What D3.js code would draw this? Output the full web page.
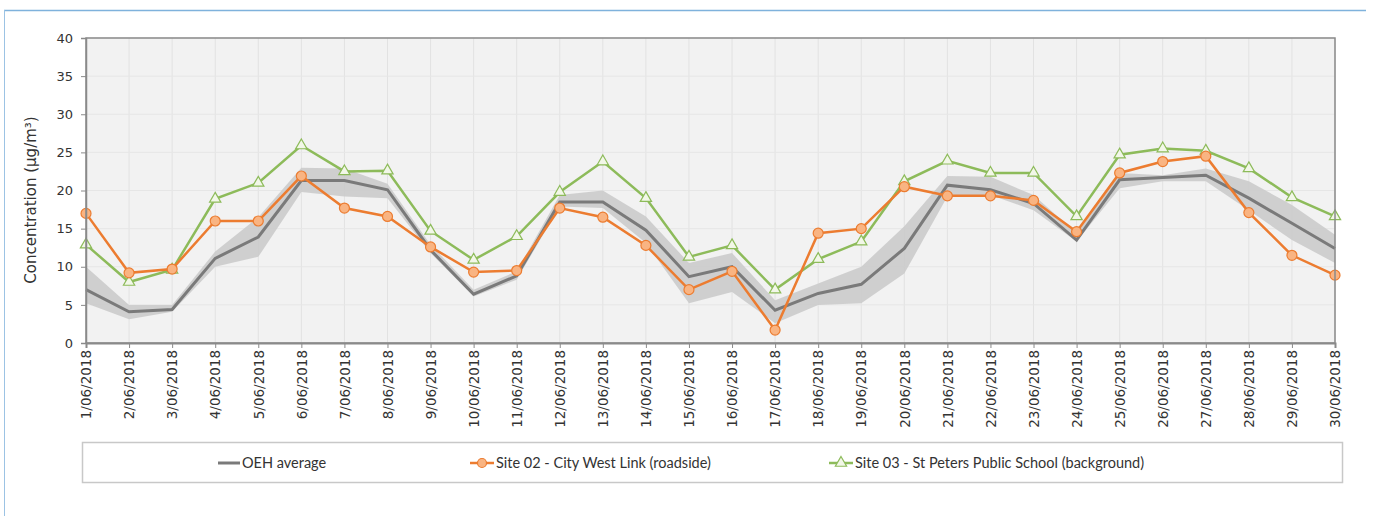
<!DOCTYPE html>
<html>
<head>
<meta charset="utf-8">
<script src="https://cdn.jsdelivr.net/npm/d3@7"></script>
<style>
  body { margin: 0; background: #fff; }
  svg { display: block; font-family: Lato, "Open Sans", sans-serif; }
</style>
</head>
<body>
<script>
// dates 1/06/2018 .. 30/06/2018
const dates = ['1/06/2018','2/06/2018','3/06/2018','4/06/2018','5/06/2018','6/06/2018','7/06/2018','8/06/2018','9/06/2018','10/06/2018',
  '11/06/2018','12/06/2018','13/06/2018','14/06/2018','15/06/2018','16/06/2018','17/06/2018','18/06/2018','19/06/2018','20/06/2018',
  '21/06/2018','22/06/2018','23/06/2018','24/06/2018','25/06/2018','26/06/2018','27/06/2018','28/06/2018','29/06/2018','30/06/2018'];

const oehAvg = [7.0, 4.1, 4.4, 11.1, 13.9, 21.3, 21.3, 20.1, 12.2, 6.4,
  8.8, 18.5, 18.5, 14.8, 8.7, 10.0, 4.3, 6.5, 7.7, 12.4,
  20.7, 20.1, 18.3, 13.5, 21.4, 21.7, 22.0, 19.0, 15.7, 12.4];
const oehMax = [10.0, 5.0, 5.0, 12.0, 16.5, 23.0, 22.9, 20.9, 12.9, 7.0,
  9.4, 19.4, 20.0, 16.6, 10.5, 11.8, 5.6, 7.8, 10.0, 15.3,
  21.9, 21.8, 19.4, 14.4, 22.3, 22.0, 22.9, 21.2, 18.1, 14.2];
const oehMin = [5.2, 3.1, 4.1, 10.0, 11.3, 19.8, 19.2, 19.0, 11.8, 6.1,
  8.3, 17.9, 17.7, 13.1, 5.2, 6.7, 2.6, 5.0, 5.2, 9.1,
  19.2, 19.4, 17.4, 13.3, 20.3, 21.2, 21.2, 17.4, 13.5, 10.5];
const site02 = [17.0, 9.2, 9.7, 16.0, 16.0, 21.9, 17.7, 16.6, 12.6, 9.3,
  9.5, 17.7, 16.5, 12.8, 7.0, 9.4, 1.7, 14.4, 15.0, 20.5,
  19.3, 19.3, 18.7, 14.6, 22.3, 23.8, 24.5, 17.1, 11.5, 8.9];
const site03 = [12.9, 8.0, 9.6, 18.9, 21.0, 25.9, 22.5, 22.6, 14.7, 10.9,
  14.0, 19.8, 23.8, 19.0, 11.3, 12.8, 7.0, 11.0, 13.3, 21.2,
  23.9, 22.3, 22.3, 16.6, 24.7, 25.5, 25.2, 22.9, 19.1, 16.6];
const yTicks = [0, 5, 10, 15, 20, 25, 30, 35, 40];
const legendLabels = ['OEH average', 'Site 02 - City West Link (roadside)', 'Site 03 - St Peters Public School (background)'];

const W = 1373, H = 516;
const margin = { left: 86, top: 38 };
const width = 1335 - margin.left;
const height = 343 - margin.top;

const svg = d3.select('body').append('svg')
  .attr('width', W).attr('height', H);

// outer blue frame (top + left)
svg.append('line').attr('x1', 4).attr('x2', 1366).attr('y1', 10.5).attr('y2', 10.5)
  .attr('stroke', '#7fb2dc').attr('stroke-width', 1.5);
svg.append('line').attr('x1', 4.5).attr('x2', 4.5).attr('y1', 10).attr('y2', H)
  .attr('stroke', '#9cc3e4').attr('stroke-width', 1);

const x = d3.scalePoint().domain(dates).range([0, width]);
const y = d3.scaleLinear().domain([0, 40]).range([height, 0]);

const g = svg.append('g').attr('transform', `translate(${margin.left},${margin.top})`);

g.append('rect').attr('width', width).attr('height', height).attr('fill', '#f2f2f2');

// gridlines
g.append('g').selectAll('line').data(dates).enter().append('line')
  .attr('x1', d => x(d)).attr('x2', d => x(d)).attr('y1', 0).attr('y2', height)
  .attr('stroke', '#e2e2e2').attr('stroke-width', 1);
g.append('g').selectAll('line').data(yTicks).enter().append('line')
  .attr('x1', 0).attr('x2', width).attr('y1', d => y(d)).attr('y2', d => y(d))
  .attr('stroke', '#e6e6e6').attr('stroke-width', 1);

// range band
const band = d3.area()
  .x((d, i) => x(dates[i]))
  .y0((d, i) => y(oehMin[i]))
  .y1((d, i) => y(oehMax[i]));
g.append('path').datum(oehAvg).attr('d', band).attr('fill', '#c9c9c9').attr('opacity', 0.85);

const line = d3.line().x((d, i) => x(dates[i])).y(d => y(d));

g.append('path').datum(oehAvg).attr('d', line)
  .attr('fill', 'none').attr('stroke', '#7a7a7a').attr('stroke-width', 3);

g.append('path').datum(site03).attr('d', line)
  .attr('fill', 'none').attr('stroke', '#8dbb5a').attr('stroke-width', 2.5);
g.append('path').datum(site02).attr('d', line)
  .attr('fill', 'none').attr('stroke', '#ec7c30').attr('stroke-width', 2.5);

const tri = d3.symbol().type(d3.symbolTriangle).size(55);
g.append('g').selectAll('path').data(site03).enter().append('path')
  .attr('d', tri)
  .attr('transform', (d, i) => `translate(${x(dates[i])},${y(d)})`)
  .attr('fill', '#f2f7e8').attr('stroke', '#8dbb5a').attr('stroke-width', 1.2);

g.append('g').selectAll('circle').data(site02).enter().append('circle')
  .attr('cx', (d, i) => x(dates[i])).attr('cy', d => y(d)).attr('r', 5)
  .attr('fill', '#f9b482').attr('stroke', '#ec7c30').attr('stroke-width', 1.2);

// frame
g.append('rect').attr('width', width).attr('height', height)
  .attr('fill', 'none').attr('stroke', '#8a8a8a').attr('stroke-width', 1.5);

// axes
const yAxis = g.append('g').call(d3.axisLeft(y).tickValues(yTicks).tickSize(5).tickPadding(8));
yAxis.select('.domain').attr('stroke', '#8a8a8a').attr('stroke-width', 1.5);
yAxis.selectAll('.tick line').attr('stroke', '#8a8a8a');
yAxis.selectAll('text').attr('font-size', 13).attr('fill', '#333')
  .attr('font-family', '"DejaVu Sans", sans-serif');

const xAxis = g.append('g').attr('transform', `translate(0,${height})`)
  .call(d3.axisBottom(x).tickSize(5).tickPadding(6));
xAxis.select('.domain').attr('stroke', '#8a8a8a').attr('stroke-width', 2);
xAxis.selectAll('.tick line').attr('stroke', '#8a8a8a');
xAxis.selectAll('text')
  .attr('font-size', 13.5).attr('fill', '#333')
  .attr('font-family', '"DejaVu Sans", sans-serif')
  .attr('transform', 'rotate(-90)')
  .attr('text-anchor', 'end')
  .attr('x', -7).attr('y', 0).attr('dy', '0.35em');

svg.append('text')
  .attr('transform', 'translate(36,200) rotate(-90)')
  .attr('text-anchor', 'middle')
  .attr('font-family', '"DejaVu Sans", sans-serif')
  .attr('font-size', 15).attr('fill', '#333')
  .text('Concentration (µg/m³)');

// legend
const lg = svg.append('g');
lg.append('rect').attr('x', 82.5).attr('y', 442.5).attr('width', 1260).attr('height', 40)
  .attr('fill', '#fff').attr('stroke', '#c8c8c8').attr('stroke-width', 1.5);

const legendX = [218, 470, 829];
const ly = 463;
// OEH
lg.append('line').attr('x1', legendX[0]).attr('x2', legendX[0] + 22).attr('y1', ly).attr('y2', ly)
  .attr('stroke', '#7a7a7a').attr('stroke-width', 3);
// Site 02
lg.append('line').attr('x1', legendX[1]).attr('x2', legendX[1] + 24).attr('y1', ly).attr('y2', ly)
  .attr('stroke', '#ec7c30').attr('stroke-width', 2.5);
lg.append('circle').attr('cx', legendX[1] + 12).attr('cy', ly).attr('r', 4.5)
  .attr('fill', '#f9b482').attr('stroke', '#ec7c30').attr('stroke-width', 1.2);
// Site 03
lg.append('line').attr('x1', legendX[2]).attr('x2', legendX[2] + 24).attr('y1', ly).attr('y2', ly)
  .attr('stroke', '#8dbb5a').attr('stroke-width', 2.5);
lg.append('path').attr('d', tri).attr('transform', `translate(${legendX[2] + 12},${ly})`)
  .attr('fill', '#f2f7e8').attr('stroke', '#8dbb5a').attr('stroke-width', 1.2);

lg.selectAll('text').data(legendLabels).enter().append('text')
  .attr('x', (d, i) => legendX[i] + (i === 0 ? 24 : 26)).attr('y', ly).attr('dy', '0.35em')
  .attr('font-size', 14.5).attr('fill', '#333')
  .text(d => d);
</script>
</body>
</html>
